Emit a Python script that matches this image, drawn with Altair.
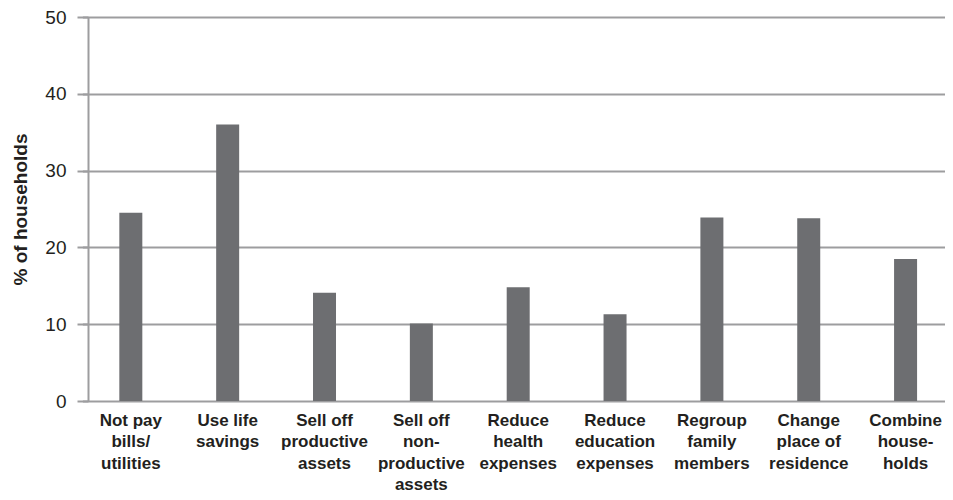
import altair as alt
import pandas as pd

categories = [
    "Not pay|bills/|utilities",
    "Use life|savings",
    "Sell off|productive|assets",
    "Sell off|non-|productive|assets",
    "Reduce|health|expenses",
    "Reduce|education|expenses",
    "Regroup|family|members",
    "Change|place of|residence",
    "Combine|house-|holds",
]
values = [24.5, 36.0, 14.1, 10.1, 14.8, 11.3, 23.9, 23.8, 18.5]
y_ticks = [0, 10, 20, 30, 40, 50]

df = pd.DataFrame({"category": categories, "value": values})

GRID = "#9d9d9f"
TEXT = "#231f20"
FONT = "Liberation Sans"

chart = (
    alt.Chart(df)
    .mark_bar(size=23, color="#6d6e71")
    .encode(
        x=alt.X(
            "category:N",
            sort=categories,
            scale=alt.Scale(range=[-5.6, 866]),
            axis=alt.Axis(
                title=None,
                labelAngle=0,
                labelExpr="split(datum.label, '|')",
                labelFont=FONT,
                labelFontSize=17,
                labelFontWeight="bold",
                labelColor=TEXT,
                labelLineHeight=21.5,
                labelPadding=11,
                labelBaseline="top",
                domain=False,
                ticks=False,
                labelLimit=0,
            ),
        ),
        y=alt.Y(
            "value:Q",
            scale=alt.Scale(domain=[0, 50], nice=False),
            axis=alt.Axis(
                title="% of households",
                values=y_ticks,
                titleFont=FONT,
                titleFontSize=19,
                titleFontWeight="bold",
                titleColor=TEXT,
                titlePadding=14,
                labelFont=FONT,
                labelFontSize=19,
                labelColor=TEXT,
                labelPadding=11,
                grid=True,
                gridColor=GRID,
                gridWidth=2,
                domainColor=GRID,
                domainWidth=2,
                tickColor=GRID,
                tickWidth=2,
                tickSize=11,
            ),
        ),
    )
    .properties(
        width=857,
        height=384,
        autosize=alt.AutoSizeParams(type="none"),
        padding={"left": 80, "top": 9, "right": 0, "bottom": 99},
    )
    .configure_view(stroke=None)
    .configure(background="white")
)

chart.save("out.html", embed_options={"renderer": "svg", "actions": False})
